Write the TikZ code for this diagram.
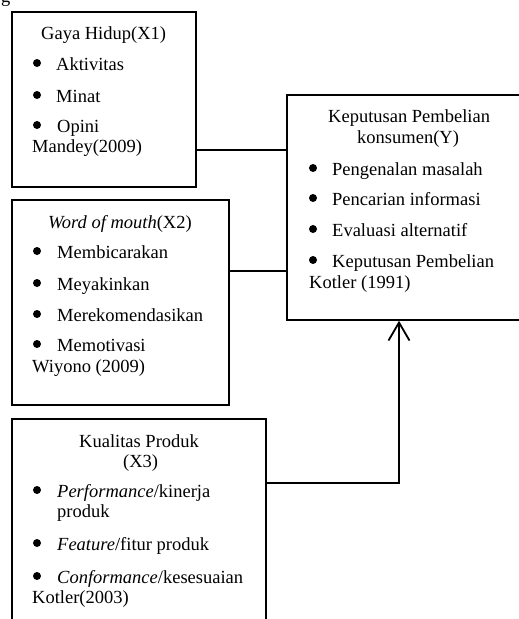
\documentclass[tikz,border=0pt]{standalone}
\usepackage{fontspec}
\setmainfont{Liberation Serif}
\usetikzlibrary{arrows.meta}
\tikzset{
  box/.style={draw=black, line width=1.5pt, rectangle, inner sep=0pt},
  txt/.style={anchor=base west, inner sep=0pt, font=\fontsize{18.5}{21}\selectfont},
  conn/.style={draw=black, line width=1.5pt},
  bul/.style={fill=black}
}
\begin{document}
\begin{tikzpicture}[x=1pt,y=-1pt]
\useasboundingbox (0,0) rectangle (519,619);
\clip (0,0) rectangle (519,619);
\fill[white] (0,0) rectangle (519,619);
% partial glyph at top-left (cut by the edge, as in the reference)
\node[txt] (gcut) at (1,2) {g};
% boxes
\node[box, minimum width=184pt, minimum height=175pt] (b1) at (104,99.5) {};
\node[box, minimum width=217pt, minimum height=205pt] (b2) at (120.5,302.5) {};
\node[box, minimum width=254pt, minimum height=231pt] (b3) at (139,534.5) {};
\node[box, minimum width=243pt, minimum height=225pt] (by) at (408.5,207.5) {};
% box 1
\node[txt] (t11) at (41,39) {Gaya Hidup(X1)};
\fill[bul] (37,63) circle (4pt);
\node[txt] (t12) at (56,70) {Aktivitas};
\fill[bul] (37,95) circle (4pt);
\node[txt] (t13) at (56,102) {Minat};
\fill[bul] (37,125) circle (4pt);
\node[txt] (t14) at (57,132) {Opini};
\node[txt] (t15) at (32,152) {Mandey(2009)};
% box 2
\node[txt] (t21) at (48,228) {\textit{Word of mouth}(X2)};
\fill[bul] (37,251) circle (4pt);
\node[txt] (t22) at (57,258) {Membicarakan};
\fill[bul] (37,283) circle (4pt);
\node[txt] (t23) at (57,290) {Meyakinkan};
\fill[bul] (37,314) circle (4pt);
\node[txt] (t24) at (57,321) {Merekomendasikan};
\fill[bul] (37,344) circle (4pt);
\node[txt] (t25) at (57,351) {Memotivasi};
\node[txt] (t26) at (32,372) {Wiyono (2009)};
% box 3
\node[txt] (t31) at (79,447) {Kualitas Produk};
\node[txt] (t32) at (123,467) {(X3)};
\fill[bul] (37,490) circle (4pt);
\node[txt] (t33) at (57,497) {\textit{Performance}/kinerja};
\node[txt] (t34) at (57,517) {produk};
\fill[bul] (37,543) circle (4pt);
\node[txt] (t35) at (57,550) {\textit{Feature}/fitur produk};
\fill[bul] (37,576) circle (4pt);
\node[txt] (t36) at (57,583) {\textit{Conformance}/kesesuaian};
\node[txt] (t37) at (32,603) {Kotler(2003)};
% box Y
\node[txt] (ty1) at (328,122) {Keputusan Pembelian};
\node[txt] (ty2) at (357,143) {konsumen(Y)};
\fill[bul] (313,168) circle (4pt);
\node[txt] (ty3) at (332,175) {Pengenalan masalah};
\fill[bul] (313,198) circle (4pt);
\node[txt] (ty4) at (332,205) {Pencarian informasi};
\fill[bul] (313,229) circle (4pt);
\node[txt] (ty5) at (332,236) {Evaluasi alternatif};
\fill[bul] (313,260) circle (4pt);
\node[txt] (ty6) at (332,267) {Keputusan Pembelian};
\node[txt] (ty7) at (309,288) {Kotler (1991)};
% connectors
\coordinate (c1) at (0,150);
\coordinate (c2) at (0,271);
\coordinate (c3) at (399,483);
\draw[conn] (b1.east |- c1) -- (by.west |- c1);
\draw[conn] (b2.east |- c2) -- (by.west |- c2);
\draw[conn, line width=1.8pt, -{Straight Barb[length=18pt,width=21pt,line width=1.8pt]}] (b3.east |- c3) -- (c3) -- (by.south -| c3);
\end{tikzpicture}
\end{document}
